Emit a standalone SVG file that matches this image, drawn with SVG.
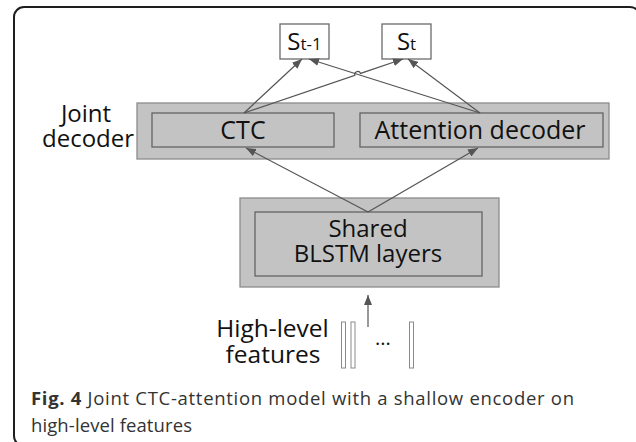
<svg xmlns="http://www.w3.org/2000/svg" width="636" height="442" viewBox="0 0 636 442">
  <style>
    .frame { fill: none; stroke: #1e1e1e; stroke-width: 2; }
    .outer { fill: #c3c3c3; stroke: #8c8c8c; stroke-width: 1.3; }
    .inner { fill: #c3c3c3; stroke: #646464; stroke-width: 1.3; }
    .state { fill: #ffffff; stroke: #6a6a6a; stroke-width: 1.3; }
    .bar { fill: #ffffff; stroke: #8a8a8a; stroke-width: 1; }
    .lbl { font-family: "Open Sans", "DejaVu Sans", sans-serif; fill: #111111; text-anchor: middle; }
    .edge { fill: none; stroke: #555555; stroke-width: 1.2; }
    .cap { font-family: "Open Sans", "DejaVu Sans", sans-serif; font-size: 18.5px; fill: #333333; }
  </style>
  <defs>
    <marker id="arrow" viewBox="0 0 10 8" refX="10" refY="4" markerWidth="10" markerHeight="8" markerUnits="userSpaceOnUse" orient="auto">
      <path d="M0,0 L10,4 L0,8 Z" fill="#555555"/>
    </marker>
  </defs>

  <rect width="636" height="442" fill="#ffffff"/>
  <!-- figure frame -->
  <rect class="frame" x="14" y="7" width="626" height="439" rx="10"/>

  <g id="state-prev">
    <rect class="state" x="280" y="24" width="49" height="35"/>
    <text class="lbl" x="304.5" y="50" font-size="24">S<tspan font-size="17">t-1</tspan></text>
  </g>
  <g id="state-cur">
    <rect class="state" x="382" y="24" width="49" height="35"/>
    <text class="lbl" x="406.5" y="50" font-size="24">S<tspan font-size="17">t</tspan></text>
  </g>

  <g id="joint-decoder">
    <rect class="outer" x="137" y="103" width="472" height="56"/>
    <text class="lbl" x="86" y="122" font-size="24">Joint</text>
    <text class="lbl" x="88" y="147" font-size="24">decoder</text>
  </g>
  <g id="ctc">
    <rect class="inner" x="152" y="113" width="182" height="34"/>
    <text class="lbl" x="243" y="139" font-size="25">CTC</text>
  </g>
  <g id="attention-decoder">
    <rect class="inner" x="360" y="113" width="243" height="34"/>
    <text class="lbl" x="480" y="139" font-size="25">Attention decoder</text>
  </g>

  <g id="shared-blstm">
    <rect class="outer" x="240" y="198" width="259" height="89"/>
    <rect class="inner" x="255" y="212" width="227" height="64"/>
    <text class="lbl" x="368" y="237" font-size="24">Shared</text>
    <text class="lbl" x="368" y="262" font-size="24">BLSTM layers</text>
  </g>

  <g id="high-level-features">
    <text class="lbl" x="272.5" y="337" font-size="24.5">High-level</text>
    <text class="lbl" x="273" y="363" font-size="24.5">features</text>
    <rect class="bar" x="341.5" y="322" width="4" height="46"/>
    <rect class="bar" x="351" y="322" width="4" height="46"/>
    <rect class="bar" x="409.5" y="322" width="4" height="46"/>
    <text class="lbl" x="383" y="345" font-size="20">...</text>
  </g>

  <g id="connectors">
    <!-- encoder to both decoders -->
    <path class="edge" d="M368,212 L246,148" marker-end="url(#arrow)"/>
    <path class="edge" d="M368,212 L478,148" marker-end="url(#arrow)"/>
    <!-- decoders to output states -->
    <path class="edge" d="M244,113 L302,59" marker-end="url(#arrow)"/>
    <path class="edge" d="M244,113 L354.86,75.36 A3,3 0 0 1 360.54,73.44 L403,59" marker-end="url(#arrow)"/>
    <path class="edge" d="M480,113 L309,59" marker-end="url(#arrow)"/>
    <path class="edge" d="M480,113 L408,59" marker-end="url(#arrow)"/>
    <!-- features into encoder -->
    <path class="edge" d="M368,327 L368,295" marker-end="url(#arrow)"/>
  </g>

  <g id="caption">
    <text class="cap" x="31" y="405" textLength="543" lengthAdjust="spacing"><tspan font-weight="bold">Fig. 4</tspan> Joint CTC-attention model with a shallow encoder on</text>
    <text class="cap" x="31" y="432" textLength="161" lengthAdjust="spacing">high-level features</text>
  </g>
</svg>
